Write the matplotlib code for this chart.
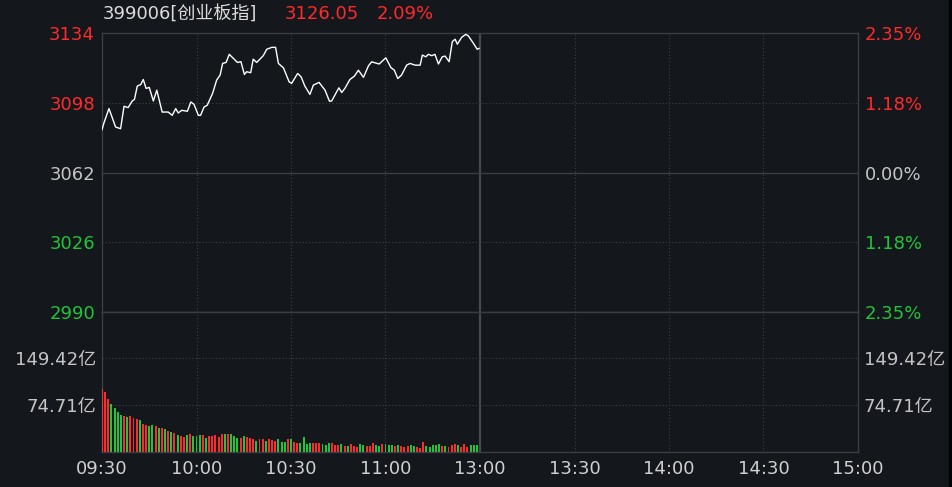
import matplotlib.pyplot as plt
from matplotlib.patches import Rectangle

plt.rcParams['font.family'] = ['DejaVu Sans', 'Noto Sans CJK SC']

# price line (minute from 09:30, index value)
minutes = [0, 0.6, 2.2, 3.1, 4.3, 5.9, 7.0, 8.3, 9.6, 10.3, 11.2, 12.3, 13.1, 14.0, 15.0,
           16.3, 17.4, 19.1, 21.0, 22.3, 23.4, 24.2, 25.3, 27.1, 28.2, 29.2, 30.6, 31.3,
           32.4, 33.4, 35.1, 36.4, 37.5, 38.3, 39.4, 40.4, 41.7, 43.0, 44.1, 45.2, 45.9,
           47.2, 48.0, 49.1, 51.2, 52.3, 53.9, 55.1, 56.0, 57.6, 59.4, 60.2, 62.1, 63.2,
           64.4, 66.0, 67.1, 68.9, 70.8, 72.2, 72.9, 75.2, 76.1, 77.1, 78.7, 80.1, 81.4,
           83.0, 84.6, 85.6, 88.0, 90.1, 91.7, 92.8, 93.9, 95.1, 96.7, 97.8, 99.4, 101.0,
           101.7, 102.8, 103.6, 104.7, 105.7, 106.8, 108.0, 108.9, 110.2, 111.2, 112.1,
           112.8, 114.2, 115.5, 116.3, 117.9, 119.1, 119.7]
prices = [3084.1, 3087.5, 3095.0, 3091.0, 3085.5, 3084.6, 3096.2, 3095.5, 3098.9, 3099.7,
          3106.6, 3107.4, 3110.0, 3105.4, 3105.9, 3098.9, 3104.5, 3093.2, 3093.2, 3091.5,
          3095.0, 3092.7, 3094.1, 3093.6, 3098.4, 3097.2, 3091.5, 3091.5, 3095.8, 3096.7,
          3102.8, 3109.7, 3112.3, 3118.3, 3118.8, 3123.0, 3120.9, 3118.8, 3119.2, 3112.6,
          3114.0, 3113.5, 3120.5, 3118.8, 3122.3, 3125.6, 3126.6, 3126.6, 3118.3, 3116.0,
          3108.8, 3108.0, 3113.1, 3111.4, 3106.6, 3102.3, 3107.1, 3108.5, 3104.5, 3098.8,
          3098.9, 3105.7, 3103.3, 3105.4, 3110.0, 3111.7, 3114.8, 3111.1, 3117.1, 3119.1,
          3118.0, 3121.2, 3116.2, 3114.8, 3110.5, 3112.3, 3117.4, 3118.3, 3117.4, 3117.4,
          3122.6, 3121.7, 3123.0, 3122.3, 3123.0, 3118.0, 3121.7, 3122.1, 3119.2, 3129.5,
          3130.8, 3128.2, 3131.8, 3133.3, 3132.5, 3128.7, 3125.6, 3126.05]

# one volume bar per minute (亿), colour flag: 1 red / 0 green
volume = [100, 96, 84, 77, 70, 64, 59, 57, 56, 57, 54, 52, 50, 44, 42, 41, 42, 41, 37, 38,
          36, 33, 31, 29, 27, 25, 24, 26, 28, 25, 25, 26, 26, 22, 25, 25, 26, 24, 28, 28,
          28, 28, 25, 22, 21, 25, 24, 22, 20, 17, 20, 20, 17, 20, 18, 17, 20, 16, 16, 20,
          20, 16, 13, 14, 23, 12, 14, 14, 13, 14, 12, 11, 13, 14, 11, 11, 12, 9, 9, 12,
          9, 8, 12, 10, 9, 9, 13, 10, 9, 12, 12, 10, 10, 9, 10, 9, 8, 9, 10, 9,
          7, 6, 16, 9, 8, 10, 11, 12, 9, 9, 8, 11, 12, 11, 8, 12, 8, 10, 10, 10]
up = [1, 1, 1, 0, 0, 0, 0, 1, 0, 1, 1, 1, 0, 1, 1, 0, 0, 1, 0, 1,
      0, 1, 0, 1, 0, 1, 1, 0, 1, 0, 0, 0, 1, 0, 1, 1, 1, 1, 1, 0,
      1, 0, 0, 0, 1, 0, 1, 1, 1, 0, 1, 1, 0, 1, 1, 1, 0, 0, 0, 1,
      0, 1, 1, 0, 0, 0, 0, 1, 1, 1, 0, 0, 0, 1, 1, 1, 0, 1, 0, 1,
      1, 1, 0, 0, 1, 1, 1, 0, 0, 1, 0, 0, 0, 1, 0, 1, 1, 1, 0, 0,
      1, 1, 1, 0, 0, 0, 0, 0, 1, 0, 1, 1, 1, 0, 1, 1, 1, 0, 0, 0]

pre_close = 3062
price_ticks = [3134, 3098, 3062, 3026, 2990]
pct_labels = ['2.35%', '1.18%', '0.00%', '1.18%', '2.35%']
vol_ticks = [74.71, 149.42]
vol_labels = ['74.71亿', '149.42亿']
time_ticks = [0, 30, 60, 90, 120, 150, 180, 210, 240]
time_labels = ['09:30', '10:00', '10:30', '11:00', '13:00', '13:30', '14:00', '14:30', '15:00']

bg = '#14171c'
red = '#ff2a2a'
green = '#22c43a'
grey = '#c4c4c4'
frame = '#3a3d42'
fs = 13

fig = plt.figure(figsize=(9.52, 4.87), dpi=100, facecolor=bg)
ax = fig.add_axes([102 / 952, 175 / 487, 756 / 952, 279 / 487], facecolor=bg)
axv = fig.add_axes([102 / 952, 35.5 / 487, 756 / 952, 139.5 / 487], facecolor=bg, sharex=ax)

ax.set_xlim(0, 240)
ax.set_ylim(2990, 3134)
axv.set_ylim(0, 224.1)

for a in (ax, axv):
    for s in a.spines.values():
        s.set_color(frame)
        s.set_linewidth(1)
    for t in (30, 60, 90, 150, 180, 210):
        a.axvline(t, color='#3d4045', lw=0.8, ls=(0, (1, 2)), zorder=0)
    a.axvline(120, color='#46494e', lw=1.6, zorder=0)
    a.tick_params(length=0)

for p in (3098, 3026):
    ax.axhline(p, color='#3d4045', lw=0.8, ls=(0, (1, 2)), zorder=0)
ax.axhline(pre_close, color=frame, lw=1, zorder=0)
for v in vol_ticks:
    axv.axhline(v, color='#3d4045', lw=0.8, ls=(0, (1, 2)), zorder=0)

ax.plot(minutes, prices, color='white', lw=1.0, zorder=3)

colors = [red if u else green for u in up]
axv.bar(range(len(volume)), volume, width=0.62, color=colors, zorder=3)

# left price labels
ax.set_yticks(price_ticks)
ax.set_yticklabels([str(p) for p in price_ticks], fontsize=fs)
for lbl, p in zip(ax.get_yticklabels(), price_ticks):
    lbl.set_color(red if p > pre_close else green if p < pre_close else grey)
ax.tick_params(axis='y', pad=5)

# right percentage labels
axr = ax.twinx()
axr.set_ylim(ax.get_ylim())
axr.set_yticks(price_ticks)
axr.set_yticklabels(pct_labels, fontsize=fs)
for lbl, p in zip(axr.get_yticklabels(), price_ticks):
    lbl.set_color(red if p > pre_close else green if p < pre_close else grey)
axr.tick_params(length=0, pad=5)
for s in axr.spines.values():
    s.set_visible(False)

plt.setp(ax.get_xticklabels(), visible=False)

axv.set_yticks(vol_ticks)
axv.set_yticklabels(vol_labels, fontsize=fs, color=grey)
axv.tick_params(axis='y', pad=4)
axvr = axv.twinx()
axvr.set_ylim(axv.get_ylim())
axvr.set_yticks(vol_ticks)
axvr.set_yticklabels(vol_labels, fontsize=fs, color=grey)
axvr.tick_params(length=0, pad=4)
for s in axvr.spines.values():
    s.set_visible(False)

axv.set_xticks(time_ticks)
axv.set_xticklabels(time_labels, fontsize=fs, color='#d0d0d0')
axv.tick_params(axis='x', pad=6)

# header
fig.text(103 / 952, 1 - 14 / 487, '399006[创业板指]', color='#dcdcdc', fontsize=fs, va='center')
fig.text(285 / 952, 1 - 14 / 487, '3126.05', color=red, fontsize=fs, va='center')
fig.text(377 / 952, 1 - 14 / 487, '2.09%', color=red, fontsize=fs, va='center')

# dark edge on the right
fig.add_artist(Rectangle((949 / 952, 0), 3 / 952, 1, transform=fig.transFigure, color='black'))

fig.savefig('out.png', dpi=100, facecolor=bg)
